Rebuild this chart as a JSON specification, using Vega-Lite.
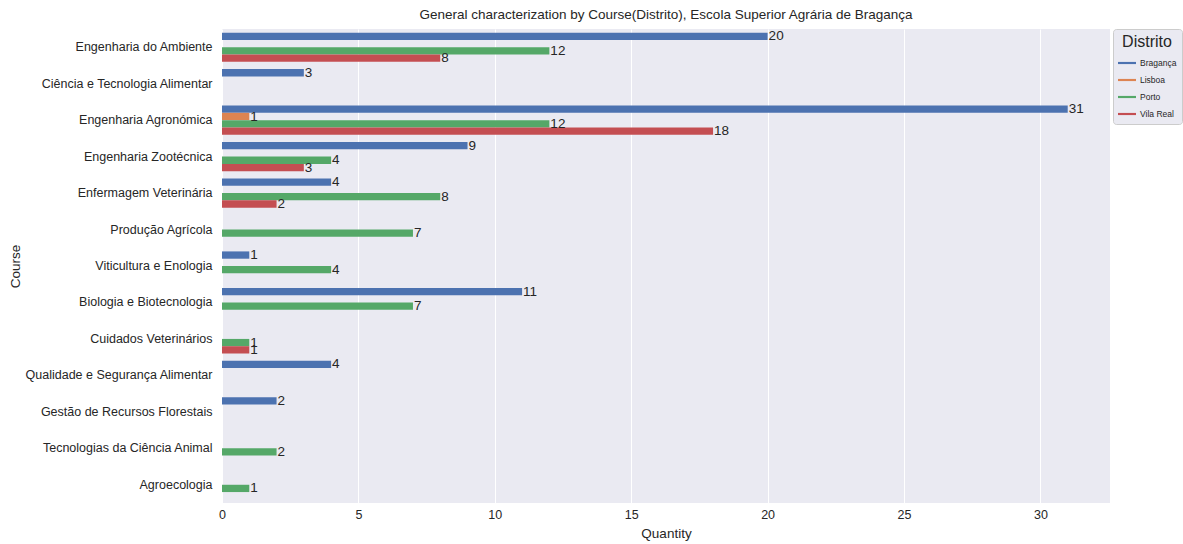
{
  "$schema": "https://vega.github.io/schema/vega-lite/v6.json",
  "width": 888,
  "height": 474,
  "autosize": {"type": "none"},
  "padding": {"left": 222, "top": 29, "right": 73, "bottom": 41},
  "background": "white",
  "title": {
    "text": "General characterization by Course(Distrito), Escola Superior Agrária de Bragança",
    "fontSize": 13.5,
    "fontWeight": "normal",
    "font": "Liberation Sans",
    "color": "#262626",
    "offset": 7,
    "anchor": "middle"
  },
  "config": {
    "view": {"fill": "#EAEAF2", "stroke": null},
    "font": "Liberation Sans",
    "axis": {
      "labelFont": "Liberation Sans",
      "titleFont": "Liberation Sans",
      "labelColor": "#262626",
      "titleColor": "#262626",
      "labelFontSize": 12.5,
      "titleFontSize": 13.5,
      "titleFontWeight": "normal",
      "domain": false,
      "ticks": false
    }
  },
  "data": {
    "values": [
      {"Course": "Engenharia do Ambiente", "Distrito": "Bragança", "Quantity": 20},
      {"Course": "Engenharia do Ambiente", "Distrito": "Porto", "Quantity": 12},
      {"Course": "Engenharia do Ambiente", "Distrito": "Vila Real", "Quantity": 8},
      {"Course": "Ciência e Tecnologia Alimentar", "Distrito": "Bragança", "Quantity": 3},
      {"Course": "Engenharia Agronómica", "Distrito": "Bragança", "Quantity": 31},
      {"Course": "Engenharia Agronómica", "Distrito": "Lisboa", "Quantity": 1},
      {"Course": "Engenharia Agronómica", "Distrito": "Porto", "Quantity": 12},
      {"Course": "Engenharia Agronómica", "Distrito": "Vila Real", "Quantity": 18},
      {"Course": "Engenharia Zootécnica", "Distrito": "Bragança", "Quantity": 9},
      {"Course": "Engenharia Zootécnica", "Distrito": "Porto", "Quantity": 4},
      {"Course": "Engenharia Zootécnica", "Distrito": "Vila Real", "Quantity": 3},
      {"Course": "Enfermagem Veterinária", "Distrito": "Bragança", "Quantity": 4},
      {"Course": "Enfermagem Veterinária", "Distrito": "Porto", "Quantity": 8},
      {"Course": "Enfermagem Veterinária", "Distrito": "Vila Real", "Quantity": 2},
      {"Course": "Produção Agrícola", "Distrito": "Porto", "Quantity": 7},
      {"Course": "Viticultura e Enologia", "Distrito": "Bragança", "Quantity": 1},
      {"Course": "Viticultura e Enologia", "Distrito": "Porto", "Quantity": 4},
      {"Course": "Biologia e Biotecnologia", "Distrito": "Bragança", "Quantity": 11},
      {"Course": "Biologia e Biotecnologia", "Distrito": "Porto", "Quantity": 7},
      {"Course": "Cuidados Veterinários", "Distrito": "Porto", "Quantity": 1},
      {"Course": "Cuidados Veterinários", "Distrito": "Vila Real", "Quantity": 1},
      {"Course": "Qualidade e Segurança Alimentar", "Distrito": "Bragança", "Quantity": 4},
      {"Course": "Gestão de Recursos Florestais", "Distrito": "Bragança", "Quantity": 2},
      {"Course": "Tecnologias da Ciência Animal", "Distrito": "Porto", "Quantity": 2},
      {"Course": "Agroecologia", "Distrito": "Porto", "Quantity": 1}
    ]
  },
  "encoding": {
    "y": {
      "field": "Course",
      "type": "nominal",
      "sort": null,
      "scale": {"paddingInner": 0.2, "paddingOuter": 0.1},
      "axis": {"labelPadding": 10, "labelLimit": 300, "grid": false, "title": "Course", "titlePadding": 2}
    },
    "yOffset": {
      "field": "Distrito",
      "type": "nominal",
      "scale": {"domain": ["Bragança", "Lisboa", "Porto", "Vila Real"], "paddingInner": 0, "paddingOuter": 0}
    },
    "x": {
      "field": "Quantity",
      "type": "quantitative",
      "scale": {"domain": [0, 32.55], "nice": false, "zero": true},
      "axis": {
        "values": [0, 5, 10, 15, 20, 25, 30],
        "grid": true,
        "gridColor": "white",
        "gridWidth": 1,
        "labelPadding": 5,
        "labelFlush": false,
        "title": "Quantity",
        "titlePadding": 6
      }
    }
  },
  "layer": [
    {
      "mark": {"type": "bar"},
      "encoding": {
        "color": {
          "field": "Distrito",
          "type": "nominal",
          "scale": {
            "domain": ["Bragança", "Lisboa", "Porto", "Vila Real"],
            "range": ["#4C72B0", "#DD8452", "#55A868", "#C44E52"]
          },
          "legend": {
            "orient": "right",
            "offset": 3,
            "title": "Distrito",
            "titleFontSize": 16,
            "titleFontWeight": "normal",
            "titleColor": "#262626",
            "titleAnchor": "middle",
            "titlePadding": 4,
            "labelFontSize": 8.5,
            "labelColor": "#262626",
            "labelOffset": 4,
            "symbolType": "M-1,-0.12H1V0.12H-1Z",
            "symbolSize": 324,
            "symbolOpacity": 1,
            "symbolStrokeWidth": 0,
            "rowPadding": 3,
            "fillColor": "#EAEAF2",
            "strokeColor": "#CCCCCC",
            "padding": 5,
            "cornerRadius": 3
          }
        }
      }
    },
    {
      "mark": {"type": "text", "align": "left", "baseline": "middle", "dx": 1, "fontSize": 13.5, "color": "#262626"},
      "encoding": {
        "text": {"field": "Quantity", "type": "quantitative"}
      }
    }
  ]
}
